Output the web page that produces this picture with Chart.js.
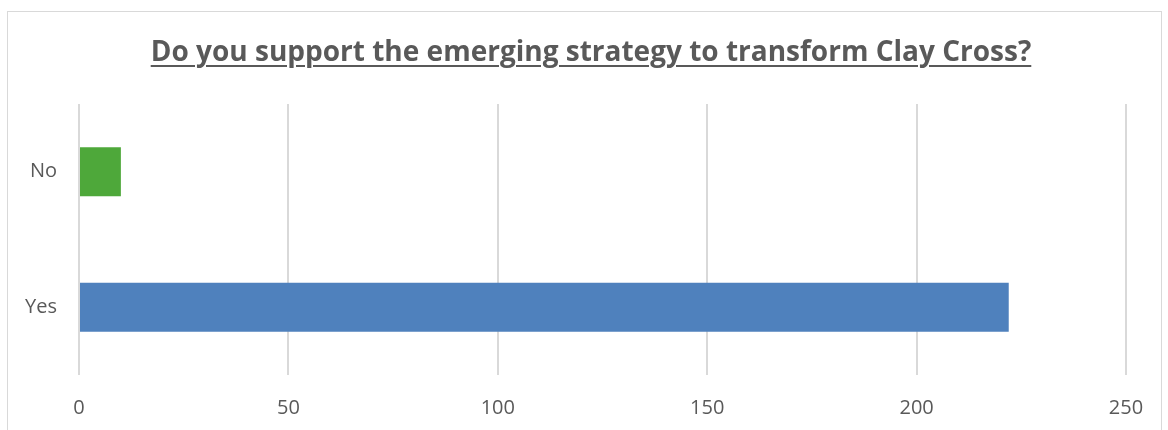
<!DOCTYPE html>
<html>
<head>
<meta charset="utf-8">
<script src="https://cdn.jsdelivr.net/npm/chart.js@4"></script>
<style>
  body { margin: 0; background: #fff; }
  #wrap { position: relative; width: 1168px; height: 430px; overflow: hidden; }
  #frame { position: absolute; left: 7px; top: 11px; width: 1153px; height: 440px; border: 1px solid #d9d9d9; }
  #title {
    position: absolute; left: 0; top: 31px; width: 1182px; text-align: center;
    font: bold 28px 'Open Sans', sans-serif; color: #595959;
    text-decoration: underline; text-decoration-thickness: 2px; text-underline-offset: 4px;
    line-height: 38px; z-index: 2;
  }
  canvas { position: absolute; left: 0; top: 0; }
</style>
</head>
<body>
<div id="wrap">
  <div id="frame"></div>
  <div id="title">Do you support the emerging strategy to transform Clay Cross?</div>
  <canvas id="chart" width="1168" height="430"></canvas>
</div>
<script>
// chart data
const categories = ['No', 'Yes'];
const responses = [10, 222];
const barColors = ['#4ea83a', '#4f81bd'];
const xTicks = [0, 50, 100, 150, 200, 250];

const ctx = document.getElementById('chart').getContext('2d');
const chart = new Chart(ctx, {
    type: 'bar',
    data: {
        labels: categories,
        datasets: [{
            data: responses,
            backgroundColor: barColors,
            borderWidth: 0,
            categoryPercentage: 1,
            barPercentage: 0.36,
        }],
    },
    options: {
        indexAxis: 'y',
        responsive: false,
        animation: false,
        maintainAspectRatio: false,
        layout: {
            padding: { left: 0, right: 42, top: 104, bottom: 0 }, // top leaves room for the html title
        },
        plugins: {
            legend: { display: false },
            tooltip: { enabled: false },
            title: { display: false },
        },
        scales: {
            x: {
                min: 0,
                max: 250,
                afterBuildTicks: (axis) => { axis.ticks = xTicks.map(v => ({ value: v })); },
                afterFit: (axis) => { axis.height = 55; },
                grid: { color: '#d9d9d9', lineWidth: 2, drawTicks: false },
                border: { display: false },
                ticks: {
                    color: '#595959',
                    padding: 21,
                    font: { family: 'Open Sans', size: 20 },
                },
            },
            y: {
                afterFit: (axis) => { axis.width = 79; },
                grid: { display: false, drawTicks: false },
                border: { display: false },
                ticks: {
                    color: '#595959',
                    padding: 22,
                    font: { family: 'Open Sans', size: 20 },
                },
            },
        },
    },
});
</script>
</body>
</html>
